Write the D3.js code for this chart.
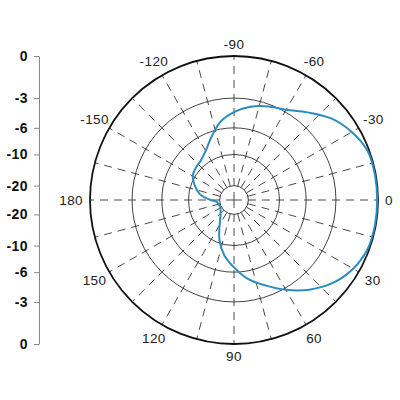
<!DOCTYPE html>
<html>
<head>
<meta charset="utf-8">
<script src="https://cdn.jsdelivr.net/npm/d3@7"></script>
<style>
  html, body { margin: 0; padding: 0; background: #fff; }
  svg { display: block; }
</style>
</head>
<body>
<svg id="chart" width="400" height="400"></svg>
<script>
// ---- data ----
const angles = [-180,-175,-170,-160,-150,-140,-130,-120,-110,-100,-90,-80,-70,-60,-50,-40,-30,-20,-10,
                0,10,20,30,40,50,60,70,80,90,100,110,120,130,140,150,160,170,175];
const gainDb = [-15.8,-13.8,-12.3,-10.8,-9.6,-9.2,-8.9,-8.1,-6.7,-5.2,-4.3,-3.65,-3.2,-2.8,-2.0,-1.1,-0.5,-0.1,-0.05,
                -0.05,-0.05,-0.1,-0.4,-0.95,-1.8,-2.85,-4.0,-5.1,-6.6,-8.2,-10.6,-14.0,-16.7,-18.3,-19.3,-19.3,-18.8,-18.2];
const ringDb = [-20, -10, -6, -3];
const angleTicks = [0, 30, 60, 90, 120, 150, 180, -150, -120, -90, -60, -30];
const angleTickLabels = ["0","30","60","90","120","150","180","-150","-120","-90","-60","-30"];
const axisDb = [0, -3, -6, -10, -20, -20, -10, -6, -3, 0];
const axisTickLabels = ["0","-3","-6","-10","-20","-20","-10","-6","-3","0"];

// ---- layout ----
const cx = 234, cy = 200, R = 144;
const svg = d3.select("#chart");
const rScale = d3.scaleLinear().domain([0, 1]).range([0, R]);
const rOf = db => rScale(Math.pow(10, db / 20));
const rad = d => d * Math.PI / 180;

const g = svg.append("g").attr("transform", `translate(${cx},${cy})`);

// rings
g.selectAll("circle.ring").data(ringDb).join("circle")
  .attr("class", "ring")
  .attr("r", d => rOf(d))
  .attr("fill", "none")
  .attr("stroke", "#444")
  .attr("stroke-width", 1);

// spokes
const spokes = d3.range(0, 360, 15);
g.selectAll("line.spoke").data(spokes).join("line")
  .attr("class", "spoke")
  .attr("x1", d => (d % 90 === 0 ? 0 : rOf(-20)) * Math.cos(rad(d)))
  .attr("y1", d => (d % 90 === 0 ? 0 : rOf(-20)) * Math.sin(rad(d)))
  .attr("x2", d => R * Math.cos(rad(d)))
  .attr("y2", d => R * Math.sin(rad(d)))
  .attr("stroke", "#333")
  .attr("stroke-width", 0.9)
  .attr("stroke-dasharray", "8,6");

// outer circle
g.append("circle").attr("r", R).attr("fill", "none")
  .attr("stroke", "#111").attr("stroke-width", 1.8);

// pattern
const line = d3.lineRadial()
  .angle((d, i) => rad(angles[i] + 90))
  .radius(d => rOf(d))
  .curve(d3.curveCatmullRomClosed.alpha(0.5));
g.append("path").datum(gainDb)
  .attr("d", line)
  .attr("fill", "none")
  .attr("stroke", "#2a8dc0")
  .attr("stroke-width", 2);

// angle labels
const labelBase = 151;
angleTicks.forEach((a, i) => {
  const t = g.append("text")
    .attr("font-family", "'Liberation Sans', Arial, Helvetica, sans-serif")
    .attr("font-size", 13.5)
    .attr("letter-spacing", 0.4)
    .attr("fill", "#222")
    .attr("text-anchor", "middle")
    .attr("dominant-baseline", "central")
    .text(angleTickLabels[i]);
  const bb = t.node().getBBox();
  const c = Math.abs(Math.cos(rad(a))), s = Math.abs(Math.sin(rad(a)));
  const w = bb.width, h = (s > 0.7 && s < 0.95) ? 16 : 10;
  const d = Math.min(c > 1e-6 ? (w / 2) / c : 1e9, s > 1e-6 ? (h / 2) / s : 1e9);
  const rr = labelBase + d;
  t.attr("x", rr * Math.cos(rad(a))).attr("y", rr * Math.sin(rad(a)));
});

// left dB axis
const yAxisScale = d3.scaleLinear().domain([-1, 1]).range([cy + R, cy - R]);
const tickVals = axisDb.map((db, i) => (i < 5 ? 1 : -1) * Math.pow(10, db / 20));
const axis = d3.axisLeft(yAxisScale)
  .tickValues(tickVals)
  .tickFormat((d, i) => axisTickLabels[i])
  .tickSizeInner(5)
  .tickSizeOuter(0)
  .tickPadding(6);
const ax = svg.append("g").attr("transform", "translate(39,0)").call(axis);
ax.attr("font-size", null).attr("font-family", null);
ax.select(".domain").attr("stroke", "#888").attr("stroke-width", 1);
ax.selectAll(".tick line").attr("stroke", "#888");
ax.selectAll(".tick text")
  .style("font-family", "'Liberation Sans', Arial, Helvetica, sans-serif")
  .style("font-size", "14px")
  .style("font-weight", "bold")
  .style("letter-spacing", "0.4px")
  .attr("fill", "#111");
</script>
</body>
</html>
